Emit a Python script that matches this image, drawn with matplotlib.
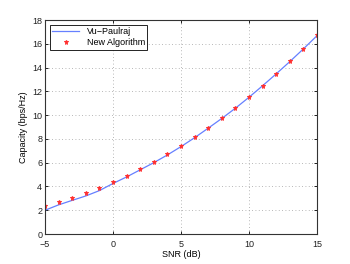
import numpy as np
import matplotlib.pyplot as plt

plt.rcParams['font.family'] = ['Liberation Sans', 'DejaVu Sans']

# SNR points (dB)
snr = [-5, -4, -3, -2, -1, 0, 1, 2, 3, 4, 5, 6, 7, 8, 9, 10, 11, 12, 13, 14, 15]
# Vu-Paulraj curve
cap_vp = [2.0, 2.45, 2.83, 3.2, 3.65, 4.25, 4.8, 5.4, 6.0, 6.65, 7.35, 8.1, 8.9, 9.72, 10.58, 11.5, 12.47, 13.47, 14.5, 15.57, 16.68]
# New algorithm
cap_new = [2.35, 2.69, 3.03, 3.42, 3.87, 4.34, 4.87, 5.43, 6.05, 6.69, 7.39, 8.12, 8.93, 9.75, 10.61, 11.54, 12.49, 13.5, 14.51, 15.57, 16.7]

fig = plt.figure(figsize=(3.5, 2.64), dpi=100)
ax = fig.add_axes([45/350, 30/264, 272/350, 214/264])

ax.plot(snr, cap_vp, color='#6680ff', lw=0.9, label='Vu\u2212Paulraj')
ax.plot(snr, cap_new, '*', color='#ff3030', ms=3.6, mew=0.6, label='New Algorithm')

ax.set_xlim(-5, 15)
ax.set_ylim(0, 18)
ax.set_xticks([-5, 0, 5, 10, 15])
ax.set_xticklabels(['\u22125', '0', '5', '10', '15'])
ax.set_yticks(range(0, 19, 2))
ax.grid(True, ls=(0, (1, 3)), color='#a0a0a0', lw=0.6)
ax.tick_params(labelsize=6.5, direction='in', length=2.5, width=0.6,
               top=True, right=True, labelcolor='#222222')
ax.tick_params(axis='x', pad=4)
ax.tick_params(axis='y', pad=2)
for s in ax.spines.values():
    s.set_linewidth(0.8)
    s.set_color('#333333')

ax.set_xlabel('SNR (dB)', fontsize=6.5, labelpad=1)
ax.set_ylabel('Capacity (bps/Hz)', fontsize=6.5, labelpad=3)

leg = ax.legend(loc='upper left', fontsize=6.5, fancybox=False, framealpha=1,
                edgecolor='black', borderpad=0.3, labelspacing=0.2,
                handlelength=3.0, borderaxespad=0.5)
leg.get_frame().set_linewidth(0.6)

plt.savefig('out.png', dpi=100)
